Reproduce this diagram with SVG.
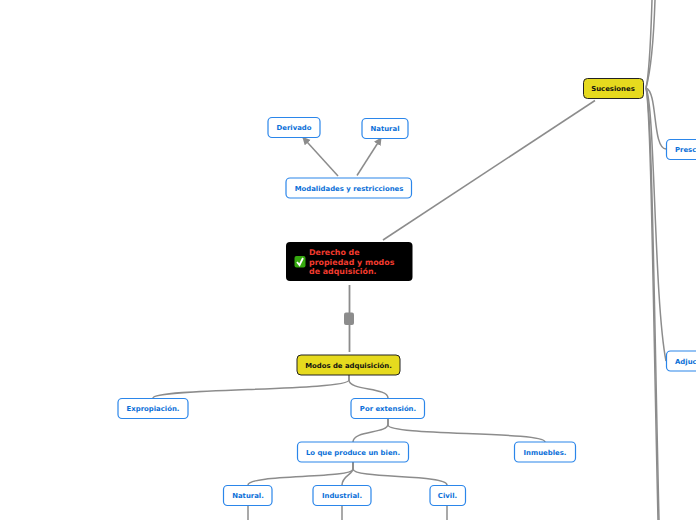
<svg xmlns="http://www.w3.org/2000/svg" width="696" height="520" viewBox="0 0 696 520">
<style>
text{font-family:"DejaVu Sans",Verdana,sans-serif;font-weight:700;font-size:6.900px;text-anchor:middle}
.b rect{fill:#fff;stroke:#2b86ea;stroke-width:1.2}
.b text{fill:#0a6fd8}
.y rect{fill:#e6da1e;stroke:#222;stroke-width:1}
.y text{fill:#111}
.r text{fill:#f03a2e;font-size:7.900px;text-anchor:start}
#connectors path{fill:none;stroke:#8c8c8c;stroke-width:1.500}
</style>
<defs><marker id="a" markerWidth="9" markerHeight="9" refX="7" refY="4" orient="auto" markerUnits="userSpaceOnUse"><path d="M0 0L8 4L0 8Z" fill="#8c8c8c"/></marker></defs>
<g id="connectors">
<path d="M338 176L303 137.500" marker-end="url(#a)"/>
<path d="M357 175.500L381 138" marker-end="url(#a)"/>
<path d="M383 240L595 100.500"/>
<path d="M349.500 285V352" style="stroke-width:1.800"/>
<path d="M349 375V380C349 391 153 388 153 398"/>
<path d="M349 375V380C349 391 388 387 388 398"/>
<path d="M388 418V424C388 434 353 430 353 442"/>
<path d="M388 418V425C388 436 545 431 545 442"/>
<path d="M353 462V469C353 479 248 474 248 485"/>
<path d="M353 462V469C353 474 342 476 342 485"/>
<path d="M353 462V469C353 479 447 474 447 485"/>
<path d="M248 505V520"/>
<path d="M342 505V520"/>
<path d="M447 505V520"/>
<path d="M646 88C650 70 651 30 652 0"/>
<path d="M646 88C651 70 654 30 655 0"/>
<path d="M646 88C658 92 652 148 666 149"/>
<path d="M646 88C655 105 654 300 666 361"/>
<path d="M646 88C652 110 654 300 659 520"/>
<path d="M646 88C651 110 653 300 658 520"/>
</g>
<g id="n-derivado" class="b"><rect x="268" y="117.500" width="52" height="20" rx="4"/><text x="294" y="130">Derivado</text></g>
<g id="n-natural1" class="b"><rect x="362" y="118.500" width="46" height="20" rx="4"/><text x="385" y="131">Natural</text></g>
<g id="n-modalidades" class="b"><rect x="286" y="178" width="125.500" height="20" rx="4"/><text x="349" y="190.500">Modalidades y restricciones</text></g>
<g id="n-root" class="r">
<rect x="286" y="242" width="126.500" height="39" rx="4" fill="#000"/>
<rect x="294.500" y="256" width="11" height="11.500" rx="2" fill="#35a80f"/>
<path d="M297 262L299.500 265L303 258" fill="none" stroke="#fff" stroke-width="1.800"/>
<text x="309" y="255">Derecho de</text><text x="309" y="264.500">propiedad y modos</text><text x="309" y="274">de adquisición.</text>
</g>
<g id="n-handle"><rect x="344" y="312.500" width="10" height="12.500" rx="2" fill="#8c8c8c"/></g>
<g id="n-modos" class="y"><rect x="297" y="355" width="103" height="20" rx="4"/><text x="348.500" y="367.500">Modos de adquisición.</text></g>
<g id="n-sucesiones" class="y"><rect x="583.500" y="78.500" width="60" height="20" rx="4"/><text x="613" y="91">Sucesiones</text></g>
<g id="n-presc" class="b"><rect x="666.500" y="139.500" width="60" height="20" rx="4"/><text x="675" y="152" style="text-anchor:start">Presc</text></g>
<g id="n-adjuc" class="b"><rect x="666.500" y="351" width="70" height="20" rx="4"/><text x="675" y="363.500" style="text-anchor:start">Adjuc</text></g>
<g id="n-expropiacion" class="b"><rect x="118" y="398.500" width="70" height="20" rx="4"/><text x="153" y="411">Expropiación.</text></g>
<g id="n-extension" class="b"><rect x="351" y="398.500" width="73.500" height="20" rx="4"/><text x="388" y="411">Por extensión.</text></g>
<g id="n-produce" class="b"><rect x="297.500" y="442" width="111" height="20" rx="4"/><text x="353" y="454.500">Lo que produce un bien.</text></g>
<g id="n-inmuebles" class="b"><rect x="514.500" y="442" width="61" height="20" rx="4"/><text x="545" y="454.500">Inmuebles.</text></g>
<g id="n-natural2" class="b"><rect x="223.500" y="485.500" width="48.500" height="20" rx="4"/><text x="248" y="498">Natural.</text></g>
<g id="n-industrial" class="b"><rect x="313" y="485.500" width="58" height="20" rx="4"/><text x="342" y="498">Industrial.</text></g>
<g id="n-civil" class="b"><rect x="430" y="485.500" width="35.500" height="20" rx="4"/><text x="447.500" y="498">Civil.</text></g>
</svg>
